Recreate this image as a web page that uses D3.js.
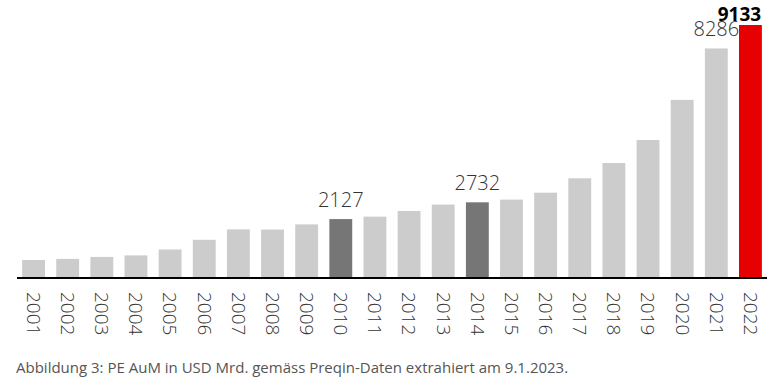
<!DOCTYPE html>
<html>
<head>
<meta charset="utf-8">
<script src="https://cdn.jsdelivr.net/npm/d3@7"></script>
<style>
  body { margin: 0; background: #fff; }
  svg { display: block; font-family: "Open Sans", "Segoe UI", sans-serif; }
</style>
</head>
<body>
<div id="chart"></div>
<script>
// Data
const years = ["2001", "2002", "2003", "2004", "2005", "2006", "2007", "2008", "2009", "2010", "2011",
               "2012", "2013", "2014", "2015", "2016", "2017", "2018", "2019", "2020", "2021", "2022"];
const aum = [650, 690, 760, 815, 1030, 1380, 1755, 1750, 1935, 2127, 2215,
             2420, 2650, 2732, 2830, 3080, 3600, 4150, 4980, 6430, 8286, 9133];
const labelledYears = ["2010", "2014", "2021", "2022"];
const caption = "Abbildung 3: PE AuM in USD Mrd. gemäss Preqin-Daten extrahiert am 9.1.2023.";

const width = 784, height = 386;
const baseline = 278;

const svg = d3.select("#chart").append("svg")
    .attr("width", width)
    .attr("height", height);

const x = d3.scaleBand()
    .domain(years)
    .range([17, 767])
    .paddingInner(0.33)
    .paddingOuter(0.15);

const y = d3.scaleLinear()
    .domain([0, 9133])
    .range([baseline, 25]);

function barColor(yr) {
    if (yr === "2022") return "#e60000";
    if (yr === "2010" || yr === "2014") return "#767676";
    return "#cccccc";
}

const data = years.map((yr, i) => ({ year: yr, value: aum[i] }));

// Bars
svg.append("g").selectAll("rect")
    .data(data)
    .join("rect")
    .attr("x", d => x(d.year))
    .attr("y", d => y(d.value))
    .attr("width", x.bandwidth())
    .attr("height", d => baseline - y(d.value))
    .attr("fill", d => barColor(d.year));

// Value labels
svg.append("g").selectAll("text")
    .data(data.filter(d => labelledYears.includes(d.year)))
    .join("text")
    .attr("x", d => x(d.year) + x.bandwidth() / 2 + (d.year === "2022" ? -11 : 0))
    .attr("y", d => y(d.value) - (d.year === "2022" ? 4 : 12))
    .attr("text-anchor", "middle")
    .style("font-size", d => d.year === "2022" ? "19px" : "20px")
    .style("font-weight", d => d.year === "2022" ? "bold" : "300")
    .style("fill", d => d.year === "2022" ? "#000" : "#333")
    .text(d => d3.format("d")(d.value));

// Axis
const xAxis = svg.append("g")
    .attr("transform", `translate(0,${baseline})`)
    .call(d3.axisBottom(x).tickSize(0).tickPadding(0));
xAxis.select(".domain")
    .attr("stroke", "#000")
    .attr("stroke-width", 2)
    .attr("d", "M17,0H767");
xAxis.selectAll(".tick text")
    .attr("transform", "rotate(90)")
    .attr("x", 14)
    .attr("y", 0)
    .attr("dy", "0.35em")
    .attr("text-anchor", "start")
    .style("font-family", "'Open Sans', 'Segoe UI', sans-serif")
    .style("font-size", "19px")
    .style("font-weight", "300")
    .style("fill", "#333");

// Caption
svg.append("text")
    .attr("x", 16)
    .attr("y", 373)
    .style("font-size", "15px")
    .style("fill", "#555")
    .text(caption);
</script>
</body>
</html>
